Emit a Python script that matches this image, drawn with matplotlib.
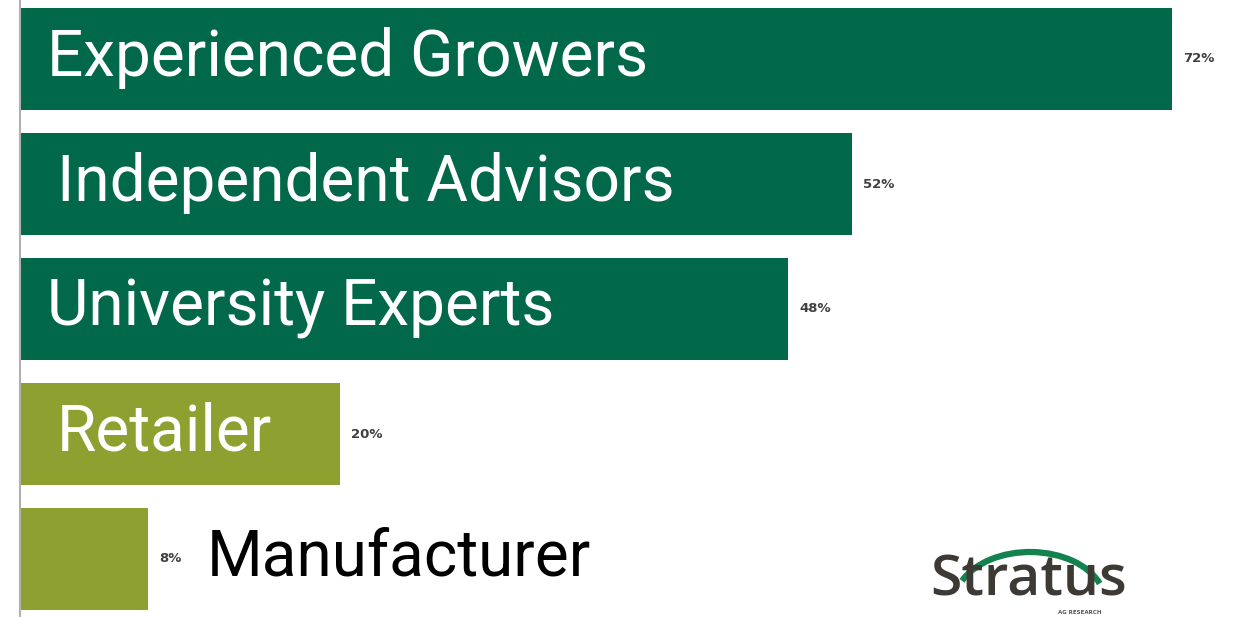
import numpy as np
import matplotlib.pyplot as plt
from matplotlib.patches import Arc

# Sources ranked by share of respondents
sources = ['Experienced Growers', 'Independent Advisors', 'University Experts',
           'Retailer', 'Manufacturer']
shares = [72, 52, 48, 20, 8]
value_labels = ['72%', '52%', '48%', '20%', '8%']

dark_green = '#02684a'
olive = '#8ea02f'
bar_colors = [dark_green, dark_green, dark_green, olive, olive]

fig = plt.figure(figsize=(12.39, 6.17), dpi=100)
ax = fig.add_axes([20 / 1239, 0, 1 - 20 / 1239, 1])

pos = np.arange(len(sources))
ax.barh(pos, shares, height=0.82, color=bar_colors)
ax.set_xlim(0, 1219 / 16.0)
ax.set_ylim(4.464, -0.472)

for sp in ['top', 'right', 'bottom']:
    ax.spines[sp].set_visible(False)
ax.spines['left'].set_color('#b0b0b0')
ax.spines['left'].set_linewidth(1.5)
ax.set_xticks([])
ax.set_yticks([])

# category names: white inside the bar, black beside the short one
name_x = [1.7, 2.3, 1.7, 2.3, 11.65]
for i, name in enumerate(sources):
    inside = shares[i] > 15
    ax.text(name_x[i], pos[i] - 0.01, name, va='center', ha='left',
            fontsize=46, family='Roboto',
            color='white' if inside else 'black')

# value labels at the bar ends
for i, lab in enumerate(value_labels):
    ax.text(shares[i] + 0.7, pos[i], lab, va='center', ha='left',
            fontsize=9.5, fontweight='bold', color='#404040')

# company logo, bottom right
fig.text(1029 / 1239, 1 - 582 / 617, 'Stratus', ha='center', va='center',
         fontsize=41, fontweight='semibold', family='Open Sans', color='#3d3935')
fig.text(1080 / 1239, 1 - 612 / 617, 'AG RESEARCH', ha='center', va='center',
         fontsize=4, fontweight='bold', color='#555555')
arc = Arc((1030 / 1239, 1 - 602 / 617), 150 / 1239, 100 / 617,
          theta1=28, theta2=148, transform=fig.transFigure,
          color='#13824f', linewidth=4.5)
fig.add_artist(arc)

fig.savefig('out.png', dpi=100)
